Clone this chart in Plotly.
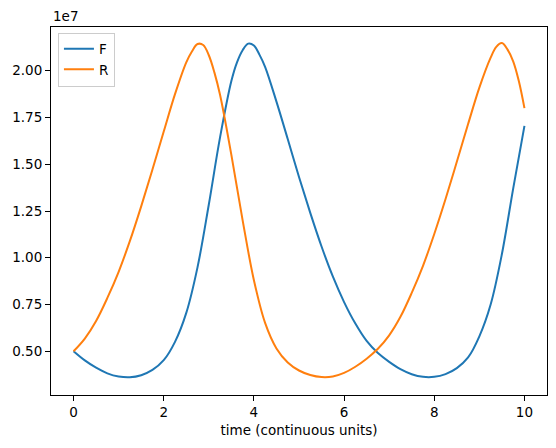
import plotly.graph_objects as go

# values (time in continuous units, populations in units of 1e7)
t_F = [0.0, 0.25, 0.5, 0.75, 1.0, 1.25, 1.5, 1.75, 2.0, 2.25, 2.5, 2.75, 3.0, 3.25,
       3.5, 3.625, 3.75, 3.875, 4.0, 4.125, 4.25, 4.5, 4.75, 5.0, 5.25, 5.5, 5.75,
       6.0, 6.25, 6.5, 6.75, 7.0, 7.25, 7.5, 7.75, 8.0, 8.25, 8.5, 8.75, 9.0, 9.25,
       9.5, 9.75, 10.0]
F_vals = [0.500, 0.451, 0.412, 0.382, 0.365, 0.361, 0.372, 0.400, 0.452, 0.550,
          0.705, 0.950, 1.285, 1.645, 1.945, 2.045, 2.110, 2.145, 2.135, 2.085,
          2.020, 1.835, 1.635, 1.432, 1.240, 1.060, 0.900, 0.763, 0.648, 0.555,
          0.490, 0.443, 0.404, 0.377, 0.363, 0.363, 0.378, 0.410, 0.467, 0.580,
          0.750, 1.020, 1.370, 1.705]

t_R = [0.0, 0.25, 0.5, 0.75, 1.0, 1.25, 1.5, 1.75, 2.0, 2.25, 2.5, 2.625, 2.75,
       2.875, 3.0, 3.125, 3.25, 3.5, 3.75, 4.0, 4.25, 4.5, 4.75, 5.0, 5.25, 5.5,
       5.75, 6.0, 6.25, 6.5, 6.75, 7.0, 7.25, 7.5, 7.75, 8.0, 8.25, 8.5, 8.75, 9.0,
       9.25, 9.375, 9.5, 9.625, 9.75, 9.875, 10.0]
R_vals = [0.500, 0.568, 0.662, 0.785, 0.925, 1.090, 1.275, 1.472, 1.675, 1.875,
          2.045, 2.103, 2.143, 2.138, 2.083, 1.990, 1.870, 1.550, 1.200, 0.880,
          0.650, 0.515, 0.440, 0.397, 0.373, 0.362, 0.365, 0.384, 0.417, 0.460,
          0.513, 0.585, 0.684, 0.812, 0.957, 1.127, 1.314, 1.513, 1.715, 1.910,
          2.070, 2.128, 2.148, 2.113, 2.050, 1.945, 1.800]

SCALE = 1e7
y_ticks = [0.50, 0.75, 1.00, 1.25, 1.50, 1.75, 2.00]
y_tick_labels = ["0.50", "0.75", "1.00", "1.25", "1.50", "1.75", "2.00"]
x_ticks = [0, 2, 4, 6, 8, 10]

FONT = "DejaVu Sans"

fig = go.Figure()
fig.add_trace(go.Scatter(x=t_F, y=[v * SCALE for v in F_vals], mode="lines", name="F",
                         line=dict(color="#1f77b4", width=2, shape="spline", smoothing=1.0)))
fig.add_trace(go.Scatter(x=t_R, y=[v * SCALE for v in R_vals], mode="lines", name="R",
                         line=dict(color="#ff7f0e", width=2, shape="spline", smoothing=1.0)))

axis_common = dict(showline=True, linecolor="black", linewidth=1, mirror=True,
                   showgrid=False, zeroline=False, ticks="outside", ticklen=5,
                   tickwidth=1, tickcolor="black",
                   tickfont=dict(family=FONT, size=13.5, color="black"))

fig.update_xaxes(range=[-0.5, 10.5], tickvals=x_ticks, ticktext=[str(v) for v in x_ticks],
                 title=dict(text="time (continuous units)",
                            font=dict(family=FONT, size=13.5, color="black"), standoff=6),
                 **axis_common)
fig.update_yaxes(range=[0.266 * SCALE, 2.234 * SCALE],
                 tickvals=[v * SCALE for v in y_ticks], ticktext=y_tick_labels,
                 **axis_common)

fig.add_annotation(text="1e7", xref="paper", yref="paper", x=0, y=1.0,
                   xanchor="left", yanchor="bottom", showarrow=False, yshift=1,
                   font=dict(family=FONT, size=13.5, color="black"))

fig.update_layout(
    width=556, height=448,
    margin=dict(l=51, r=9, t=27, b=53),
    paper_bgcolor="white", plot_bgcolor="white",
    font=dict(family=FONT, size=13.5, color="black"),
    showlegend=True,
    legend=dict(x=0.014, y=0.985, xanchor="left", yanchor="top",
                bgcolor="rgba(255,255,255,0.8)", bordercolor="#cccccc", borderwidth=1,
                font=dict(family=FONT, size=13.5, color="black"),
                tracegroupgap=0, itemwidth=30),
)

fig.write_html("out.html", config={"displayModeBar": False})
